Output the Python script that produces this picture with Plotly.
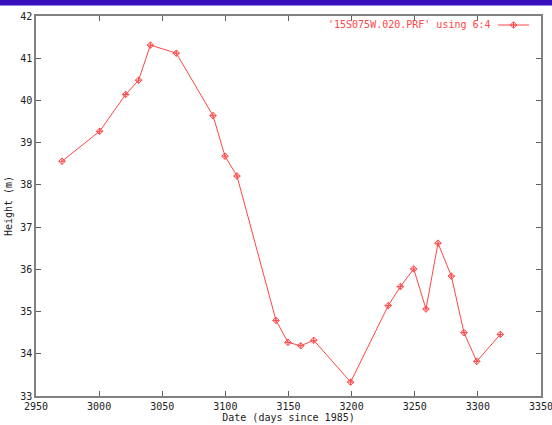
import plotly.graph_objects as go

days = [2970.6, 3000.4, 3021.0, 3031.3, 3040.6, 3061.1, 3090.2, 3099.7, 3109.2,
        3140.1, 3149.6, 3159.7, 3170.0, 3199.2, 3229.0, 3238.6, 3249.2, 3258.9,
        3268.4, 3279.0, 3289.0, 3299.1, 3317.8]
height = [38.56, 39.27, 40.14, 40.48, 41.31, 41.12, 39.64, 38.68, 38.21,
          34.79, 34.27, 34.19, 34.32, 33.33, 35.14, 35.59, 36.01, 35.06,
          36.62, 35.84, 34.50, 33.82, 34.46]
series_name = "'15S075W.020.PRF' using 6:4"
x_ticks = [2950, 3000, 3050, 3100, 3150, 3200, 3250, 3300, 3350]
y_ticks = [33, 34, 35, 36, 37, 38, 39, 40, 41, 42]

red = "rgb(255,70,70)"
mono = "DejaVu Sans Mono"
W, H = 505, 380  # plot area size in px

fig = go.Figure()
fig.add_trace(go.Scatter(
    x=days, y=height, mode="lines+markers", name=series_name,
    line=dict(color=red, width=1),
    marker=dict(symbol="diamond-cross-open", size=5, color=red, line=dict(width=1, color=red)),
    showlegend=False,
))

axis_common = dict(
    showgrid=False, zeroline=False, showline=True, mirror="ticks",
    linecolor="#808080", linewidth=1.5, ticks="inside", ticklen=5,
    tickcolor="#606060", tickwidth=1, automargin=False,
    ticklabeloverflow="allow",
    tickfont=dict(family=mono, size=10, color="#222"),
)

fig.update_layout(
    width=552, height=425,
    margin=dict(l=36, r=11, t=16, b=29),
    paper_bgcolor="white", plot_bgcolor="white",
    xaxis=dict(range=[2950, 3350], tickvals=x_ticks,
               title=dict(text="Date (days since 1985)", font=dict(family=mono, size=10, color="#222"), standoff=2),
               **axis_common),
    yaxis=dict(range=[33, 42], tickvals=y_ticks,
               title=dict(text="Height (m)", font=dict(family=mono, size=10, color="#222"), standoff=6),
               **axis_common),
    shapes=[
        dict(type="rect", xref="paper", yref="paper", x0=-0.1, x1=1.1,
             y0=1 + 10.5/H, y1=1 + 20/H, fillcolor="#3510BB", line=dict(width=0), layer="above"),
        dict(type="line", xref="paper", yref="paper", x0=(498-36)/W, x1=(529-36)/W,
             y0=1 - 9/H, y1=1 - 9/H, line=dict(color=red, width=1)),
    ],
    annotations=[
        dict(text=series_name, xref="paper", yref="paper", x=(493-36)/W, y=1 - 9/H,
             xanchor="right", yanchor="middle", showarrow=False,
             font=dict(family=mono, size=10, color=red)),
    ],
)

fig.add_trace(go.Scatter(
    x=[(513.5-36)/W], y=[1 - 9/H], xaxis="x2", yaxis="y2", mode="markers",
    marker=dict(symbol="diamond-cross-open", size=5, color=red, line=dict(width=1, color=red)),
    showlegend=False, hoverinfo="skip",
))
fig.update_layout(
    xaxis2=dict(overlaying="x", range=[0, 1], visible=False),
    yaxis2=dict(overlaying="y", range=[0, 1], visible=False),
)

fig.write_html("out.html")
